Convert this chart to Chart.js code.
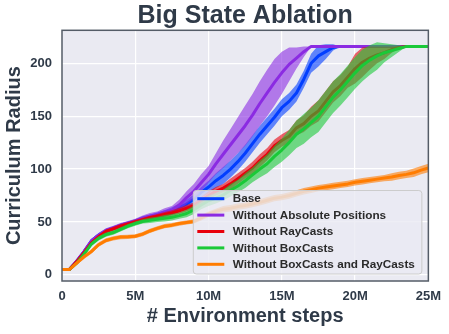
<!DOCTYPE html>
<html><head><meta charset="utf-8">
<script src="https://cdn.jsdelivr.net/npm/chart.js@4"></script>
<style>html,body{margin:0;padding:0;background:#fff;overflow:hidden}</style>
</head><body>
<canvas id="c" width="449" height="334"></canvas>
<script>
// ---- data (x in millions of environment steps) ----
const steps = [0,0.5,1,1.5,2,2.5,3,3.5,4,4.5,5,5.5,6,6.5,7,7.5,8,8.5,9,9.5,10,10.5,11,11.5,12,12.5,13,13.5,14,14.5,15,15.5,16,16.5,17,17.5,18,18.5,19,19.5,20,20.5,21,21.5,22,22.5,23,23.5,24,24.5,25];
const seriesLabels = ['Base','Without Absolute Positions','Without RayCasts','Without BoxCasts','Without BoxCasts and RayCasts'];
const seriesColors = ['#023eff','#8b2be2','#e8000b','#1ac938','#ff7c00'];

const baseMean = [5,5,13,22,32,37.5,41.5,44,46.5,48.5, 50.5,53,54.5,56,58,60.5,63.5,67,71.5,78, 83,89,94,100,107,115,124,133,141,149, 158,164,172,185,200,207,211,215,216,216, 216,216,216,216,216,216,216,216,216,216,216];
const baseSpread = [1,1,1.5,2,2,2,2,2,2,2, 2,2.5,2.5,3,3,3.5,4,4,4.5,5, 6,7,8,8,8,8,8,8,8,8, 8,8,8,8,9,10,7,3,0,0, 0,0,0,0,0,0,0,0,0,0,0];

const absMean = [5,5,13,22,32,37.5,42,44.5,47,49, 51,53.6,55.5,57,59.5,61,66,73,79,87, 95,105,114,123,132,141,151,162,172,182, 191,199,205,211,216,216,216,216,216,216, 216,216,216,216,216,216,216,216,216,216,216];
const absSpread = [1,1,1.5,1.5,2,2,2,2,2,2, 2,2.5,3,3,3.5,4,5,6,7,8, 8,10,13,15,17,19,20,21,22,22, 20,16,10,5,0,0,0,0,0,0, 0,0,0,0,0,0,0,0,0,0,0];

const rayMean = [5,5,12.5,21,30,36,41,43.5,46,48, 50,52,54,55.5,57,58.5,60.5,63,65.5,70, 75,79,82,86,91,96,101,108,114,122, 127,131,139,143,150,155,164,173,179,187, 195,201,205,208,210,213,215,216,216,216,216];
const raySpread = [1,1,1.5,2,2,2,2,2,2,2, 2,2,2,2,2.5,2.5,3,3,3,3.5, 4,4,4,5,5,5,6,6,6,6, 6,6,7,8,9,10,10,10,10,10, 14,14,11,8,6,3,1,0,0,0,0];

const boxMean = [5,5,11,19.5,29,34.5,38,40,43,46, 48.5,50.5,51.5,52.5,53.5,54.5,56,58,61.5,66, 70,72.5,75.5,80,84,89,94.5,100,105,112, 118,125,133,138,144,150,159,168,175,183, 191,198,203,207,210,212,214,216,216,216,216];
const boxSpread = [1,1,1.5,2,2,2,2,2,2,2, 2,2,2.5,2.5,3,3,3,3.5,4,4, 5,5,5,6,6,7,7,8,9,10, 11,12,13,14,14,15,15,15,15,15, 15,15,14,13,9,6,3,0,0,0,0];

const bothMean = [5,5,11,17,22,28.5,32.5,34.5,35.7,36, 36.5,38.5,41.5,44,46,47,48.5,49.5,50.5,54, 57.5,60,62,63,64.5,65.5,67,68.5,70.5,72.5, 73.5,75,77,79,80.5,82,83,84,85,86, 87.5,88.5,89.5,90.5,91.5,92.5,94,95,96.5,99,101];
const bothSpread = [1,1,1.5,2,2,2,2,2,2,2, 2,2,2,2,2,2,2,2,2,2.5, 2.5,2.5,3,3,3,3,3,3,3,3, 3,3,3,3,3,3,3,3,3,3, 3,3,3,3,3,3.5,3.5,3.5,4,4,4];

const xTickValues = [0,5,10,15,20,25];
const xTickLabels = ['0','5M','10M','15M','20M','25M'];
const yTickValues = [0,50,100,150,200];

const titleText = 'Big State Ablation';
const xTitle = '# Environment steps';
const yTitle = 'Curriculum Radius';

// ---- build datasets ----
const means = [baseMean, absMean, rayMean, boxMean, bothMean];
const spreads = [baseSpread, absSpread, raySpread, boxSpread, bothSpread];
function rgba(hex, a){const n=parseInt(hex.slice(1),16);return `rgba(${n>>16&255},${n>>8&255},${n&255},${a})`;}
const datasets = [];
means.forEach((m, k) => {
  const col = seriesColors[k];
  const base = 100 - 10*k;
  datasets.push({label: seriesLabels[k]+' upper', data: steps.map((x,i)=>({x, y: m[i]+spreads[k][i]})),
    borderWidth: 0, pointRadius: 0, fill: '+1', backgroundColor: rgba(col,0.6), order: base+2});
  datasets.push({label: seriesLabels[k]+' lower', data: steps.map((x,i)=>({x, y: m[i]-spreads[k][i]})),
    borderWidth: 0, pointRadius: 0, fill: false, order: base+1});
  datasets.push({label: seriesLabels[k], data: steps.map((x,i)=>({x, y: m[i]})),
    borderColor: col, borderWidth: 3, pointRadius: 0, fill: false, order: base,
    borderJoinStyle: 'round', borderCapStyle: 'butt'});
});

const FONT = 'Liberation Sans, Arial, Helvetica, sans-serif';
const TXT = '#2f3a48';

const bgPlugin = {
  id: 'bg',
  beforeDraw(chart){
    const {ctx, chartArea: a} = chart;
    ctx.save();
    ctx.fillStyle = '#ffffff'; ctx.fillRect(0,0,chart.width,chart.height);
    ctx.fillStyle = '#eaeaf2'; ctx.fillRect(a.left, a.top, a.right-a.left, a.bottom-a.top);
    ctx.restore();
  },
  afterDraw(chart){
    const {ctx, chartArea: a} = chart;
    ctx.save();
    // legend box
    ctx.font = `bold 11.75px ${FONT}`;
    let maxW = 0; seriesLabels.forEach(l => maxW = Math.max(maxW, ctx.measureText(l).width));
    const w = 4 + 27 + 8.5 + maxW + 7, h = 83.5;
    const x0 = a.right - 6.5 - w, y0 = a.bottom - 7 - h;
    ctx.beginPath();
    if (ctx.roundRect) ctx.roundRect(x0, y0, w, h, 3); else ctx.rect(x0,y0,w,h);
    ctx.fillStyle = 'rgba(234,234,242,0.8)'; ctx.fill();
    ctx.strokeStyle = '#cccccc'; ctx.lineWidth = 1; ctx.stroke();
    seriesLabels.forEach((l, i) => {
      const yy = y0 + 8.2 + i*16.4;
      ctx.beginPath(); ctx.moveTo(x0+4, yy); ctx.lineTo(x0+31, yy);
      ctx.strokeStyle = seriesColors[i]; ctx.lineWidth = 3; ctx.stroke();
      ctx.fillStyle = '#2b2b2b'; ctx.textBaseline = 'middle'; ctx.textAlign = 'left';
      ctx.fillText(l, x0 + 39.5, yy + 0.5);
    });
    // frame
    ctx.strokeStyle = '#545c67'; ctx.lineWidth = 1.5;
    ctx.strokeRect(a.left, a.top, a.right-a.left, a.bottom-a.top);
    ctx.restore();
  }
};

new Chart(document.getElementById('c'), {
  type: 'line',
  data: { datasets },
  plugins: [bgPlugin],
  options: {
    responsive: false, animation: false, devicePixelRatio: 1,
    layout: { padding: { left: 0, right: 19, top: 0, bottom: 0 } },
    elements: { line: { tension: 0 } },
    plugins: {
      legend: { display: false }, tooltip: { enabled: false },
      filler: { propagate: false },
      title: { display: true, text: titleText, fullSize: false, color: TXT,
        font: { family: FONT, size: 25, weight: 'bold', lineHeight: 1.15 },
        padding: { top: 1.5, bottom: 0.05 } }
    },
    scales: {
      x: { type: 'linear', min: 0, max: 25,
        afterBuildTicks: s => { s.ticks = xTickValues.map(v => ({value: v})); },
        afterFit: s => { s.height = 53; },
        ticks: { callback: v => xTickLabels[xTickValues.indexOf(v)], color: TXT, padding: 8, maxRotation: 0,
          font: { family: FONT, size: 13, weight: 'bold' } },
        grid: { color: '#ffffff', lineWidth: 1.2, drawTicks: false },
        border: { display: false },
        title: { display: true, text: xTitle, color: TXT, font: { family: FONT, size: 20, weight: 'bold', lineHeight: 1.2 },
          padding: { top: 0, bottom: 6 } } },
      y: { type: 'linear', min: -5.8, max: 231.2,
        afterBuildTicks: s => { s.ticks = yTickValues.map(v => ({value: v})); },
        afterFit: s => { s.width = 62; },
        ticks: { callback: v => String(v), color: TXT, padding: 10,
          font: { family: FONT, size: 13, weight: 'bold' } },
        grid: { color: '#ffffff', lineWidth: 1.2, drawTicks: false },
        border: { display: false },
        title: { display: true, text: yTitle, color: TXT, font: { family: FONT, size: 20, weight: 'bold', lineHeight: 1.2 },
          padding: { top: 2, bottom: 0 } } }
    }
  }
});
</script>
</body></html>
